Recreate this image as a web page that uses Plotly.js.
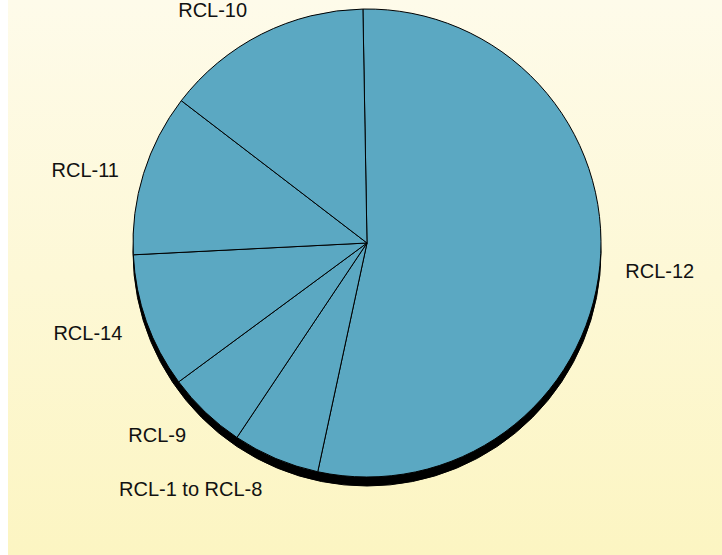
<!DOCTYPE html>
<html>
<head>
<meta charset="utf-8">
<script src="https://cdn.plot.ly/plotly-3.0.1.min.js"></script>
<style>
  html, body { margin: 0; padding: 0; background: #ffffff; overflow: hidden; }
  #wrap {
    position: relative; width: 722px; height: 555px; overflow: hidden;
    background: linear-gradient(to right, #ffffff 8px, rgba(255,255,255,0) 8px),
                linear-gradient(to bottom, #fefbea 0%, #fcf5c2 100%);
  }
  #chart { position: absolute; left: 0; top: -40px; }
</style>
</head>
<body>
<div id="wrap"><div id="chart"></div></div>
<script>
// Data (share of the pie, %)
var categories = ["RCL-12", "RCL-1 to RCL-8", "RCL-9", "RCL-14", "RCL-11", "RCL-10"];
var values = [53.6, 6.0, 5.5, 9.3, 11.2, 14.3];

// plot canvas is 40px taller than the window (extends above it)
var pad = 40, W = 722, H = 555 + pad;
var cx = 367, cy = 243 + pad, r = 234, depth = 9, labelR = 254, labelDy = 3;
function dom(rad, dy) {
  return {
    x: [(cx - rad) / W, (cx + rad) / W],
    y: [(H - cy - dy - rad) / H, (H - cy - dy + rad) / H]
  };
}

var shadow = {
  type: "pie",
  values: [1],
  labels: ["shadow"],
  domain: dom(r, depth),
  marker: { colors: ["#000000"], line: { color: "#000000", width: 1 } },
  textinfo: "none",
  hoverinfo: "skip",
  showlegend: false,
  sort: false
};

var main = {
  type: "pie",
  values: values,
  labels: categories,
  domain: dom(r, 0),
  sort: false,
  direction: "clockwise",
  rotation: -1,
  marker: {
    colors: categories.map(function () { return "#5ba8c2"; }),
    line: { color: "#000000", width: 1 }
  },
  textinfo: "none",
  showlegend: false
};

// transparent copy, a little larger, that carries the outside labels
var labelsPie = {
  type: "pie",
  values: values,
  labels: categories,
  domain: dom(labelR, labelDy),
  sort: false,
  direction: "clockwise",
  rotation: -1,
  marker: {
    colors: categories.map(function () { return "rgba(0,0,0,0)"; }),
    line: { width: 0 }
  },
  textinfo: "label",
  textposition: "outside",
  outsidetextfont: { family: "Liberation Sans, Arial, sans-serif", size: 20, color: "#111111" },
  hoverinfo: "skip",
  showlegend: false
};

Plotly.newPlot("chart", [shadow, main, labelsPie], {
  width: W, height: H,
  margin: { l: 0, r: 0, t: 0, b: 0 },
  paper_bgcolor: "rgba(0,0,0,0)",
  plot_bgcolor: "rgba(0,0,0,0)",
  showlegend: false
}, { displayModeBar: false, staticPlot: true });
</script>
</body>
</html>
